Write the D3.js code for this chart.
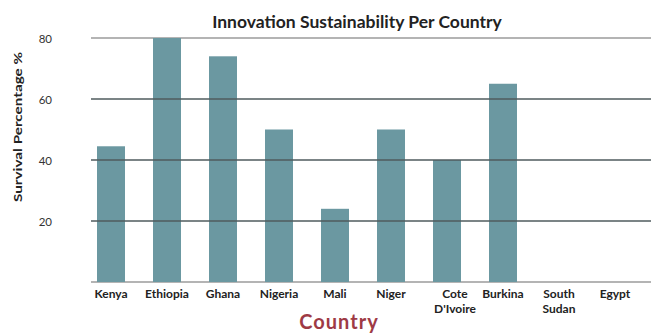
<!DOCTYPE html>
<html><head><meta charset="utf-8">
<script src="https://cdn.jsdelivr.net/npm/d3@7/dist/d3.min.js"></script>
<style>body{margin:0;background:#fff}svg{display:block}text{font-family:Lato,"Open Sans",sans-serif}</style>
</head><body><svg id="c" width="651" height="335"></svg>
<script>
const categories = ["Kenya","Ethiopia","Ghana","Nigeria","Mali","Niger","Cote\nD'Ivoire","Burkina","South\nSudan","Egypt"];
const values = [44.5, 80, 74, 50, 24, 50, 40, 65, 0, 0];
const yTicks = [20, 40, 60, 80];
const title = "Innovation Sustainability Per Country";
const xTitle = "Country";
const yTitle = "Survival Percentage %";

const svg = d3.select("#c");
const W = 651, H = 335;
const x = d3.scaleBand().domain(categories).range([83, 643]).paddingInner(0.5).paddingOuter(0.25);
const y = d3.scaleLinear().domain([0, 80]).range([282, 38]);

// outer lines (baseline and top)
svg.append("g").selectAll("line").data([0, 80]).join("line")
  .attr("x1", 91).attr("x2", W).attr("y1", d => y(d)).attr("y2", d => y(d))
  .attr("stroke", "#b4b4b4").attr("stroke-width", 1.8);

// bars
svg.append("g").selectAll("rect").data(values).join("rect")
  .attr("x", (d, i) => x(categories[i]))
  .attr("width", x.bandwidth())
  .attr("y", d => y(d)).attr("height", d => y(0) - y(d))
  .attr("fill", "#6b98a1");

// inner gridlines on top of bars
svg.append("g").selectAll("line").data(yTicks.filter(d => d < 80)).join("line")
  .attr("x1", 91).attr("x2", W).attr("y1", d => y(d)).attr("y2", d => y(d))
  .attr("stroke", "#4f5b5e").attr("stroke-width", 1.4);

// y axis labels
const yAxis = d3.axisLeft(y).tickValues(yTicks).tickSize(0).tickPadding(0);
const ga = svg.append("g").attr("transform", "translate(52,0)").call(yAxis);
ga.select(".domain").remove();
ga.selectAll("text").attr("font-size", 11.5).attr("fill", "#333").attr("font-family", "Lato, sans-serif").attr("dy", "0.35em");

// x labels
const xl = svg.append("g").selectAll("text").data(categories).join("text")
  .attr("x", d => x(d) + x.bandwidth() / 2 + (d.startsWith("Cote") ? 8 : 0))
  .attr("y", 298).attr("text-anchor", "middle")
  .attr("font-size", 12).attr("font-weight", 700).attr("fill", "#222");
xl.each(function(d) {
  const parts = d.split("\n");
  d3.select(this).selectAll("tspan").data(parts).join("tspan")
    .attr("x", d3.select(this).attr("x")).attr("dy", (p, i) => i ? 15 : 0).text(p => p);
});

// title
svg.append("text").attr("x", 357).attr("y", 28).attr("text-anchor", "middle")
  .attr("font-size", 17.5).attr("font-weight", 700).attr("fill", "#222").text(title);

svg.append("text").attr("x", 339).attr("y", 329).attr("text-anchor", "middle")
  .attr("font-size", 20).attr("font-weight", 700).attr("letter-spacing", 1).attr("fill", "#9e3a45").text(xTitle);

svg.append("text").attr("transform", "translate(22,127) rotate(-90)").attr("text-anchor", "middle")
  .attr("font-size", 12).attr("font-weight", 700).attr("fill", "#222")
  .attr("textLength", 150).attr("lengthAdjust", "spacingAndGlyphs").text(yTitle);
</script></body></html>
